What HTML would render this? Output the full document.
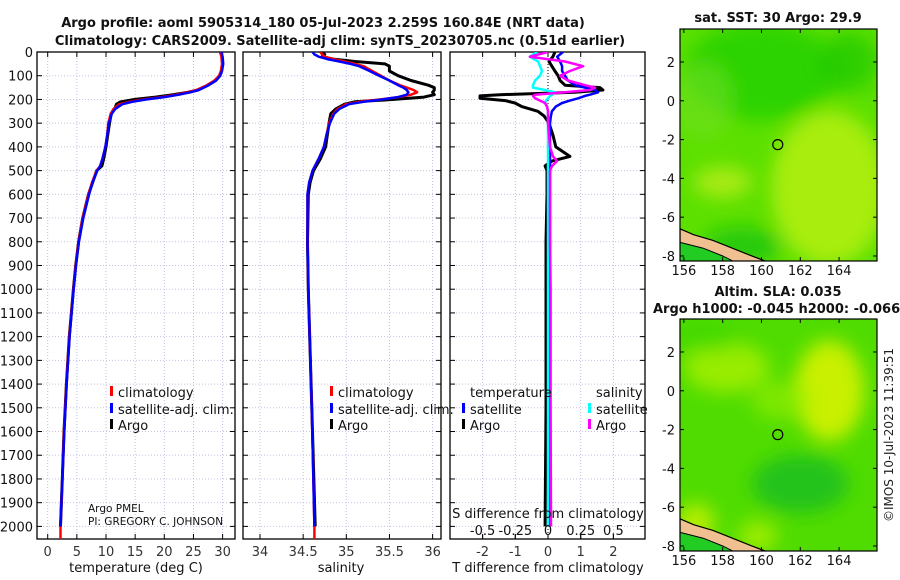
<!DOCTYPE html>
<html><head><meta charset="utf-8"><style>
body{margin:0;background:#fff;}
svg{display:block;font-family:"DejaVu Sans","Liberation Sans",sans-serif;}
</style></head><body>
<svg id="fig" width="900" height="580" viewBox="0 0 900 580">
<defs>
<filter id="blur8" x="-50%" y="-50%" width="200%" height="200%"><feGaussianBlur stdDeviation="9"/></filter>
<clipPath id="clipTop"><rect x="680" y="29" width="197" height="232"/></clipPath>
<clipPath id="clipBot"><rect x="680" y="319" width="197" height="232"/></clipPath>
<clipPath id="clipP1"><rect x="37" y="52" width="198" height="487"/></clipPath>
<clipPath id="clipP2"><rect x="243" y="52" width="198" height="487"/></clipPath>
<clipPath id="clipP3"><rect x="450" y="52" width="195" height="487"/></clipPath>
</defs>
<g id="titles" font-weight="bold" font-size="13" fill="#111">
<text x="323" y="27" text-anchor="middle">Argo profile: aoml 5905314_180 05-Jul-2023 2.259S 160.84E (NRT data)</text>
<text x="340" y="45" text-anchor="middle">Climatology: CARS2009. Satellite-adj clim: synTS_20230705.nc (0.51d earlier)</text>
<text x="778" y="22" text-anchor="middle">sat. SST: 30 Argo: 29.9</text>
<text x="778" y="296" text-anchor="middle">Altim. SLA: 0.035</text>
<text x="653" y="313">Argo h1000: -0.045 h2000: -0.066</text>
</g>
<g id="panels"></g>
<g id="maps"></g>
<text transform="translate(893,435) rotate(-90)" text-anchor="middle" font-size="12" fill="#222">©IMOS 10-Jul-2023 11:39:51</text>
</svg>
<script>
// ---- data ----
const depthT = [0,20,50,80,100,120,140,160,170,180,190,200,210,220,240,260,300,350,400,450,480,500,550,600,700,800,900,1000,1200,1400,1600,1800,2000];
const argoTemp = [29.6,29.9,30,29.8,29.5,28.8,27.5,25.8,24,21.5,18.5,15,12.5,11.8,11.5,10.9,10.6,10.3,10,9.6,9.3,8.4,7.7,7,6,5.3,4.8,4.4,3.7,3.2,2.8,2.5,2.2];
const climTemp = [29.6,29.8,29.9,29.7,29.4,28.6,27.3,25.5,24,22,19.5,16.5,14,12.3,11.3,10.8,10.4,10.2,9.9,9.4,9,8.4,7.6,7,6,5.3,4.8,4.4,3.7,3.2,2.8,2.5,2.2];
const satTemp = [29.8,30,30.1,29.9,29.6,28.9,27.6,25.9,24.5,22.5,20,17,14.5,12.8,11.6,11,10.5,10.2,9.9,9.4,9,8.5,7.7,7.1,6.1,5.35,4.85,4.45,3.75,3.25,2.85,2.5,2.2];
const depthS = [0,10,20,30,40,50,60,80,100,120,140,150,160,170,180,190,200,210,220,240,260,300,350,400,450,500,550,600,800,1000,1500,2000];
const argoSal = [34.72,34.75,34.72,34.85,35.1,35.45,35.5,35.5,35.6,35.75,35.95,36.02,36.02,36.0,36.02,35.9,35.55,35.1,34.98,34.88,34.82,34.8,34.78,34.76,34.7,34.62,34.58,34.56,34.55,34.56,34.6,34.64];
const climSal = [34.7,34.72,34.75,34.85,34.98,35.1,35.2,35.3,35.4,35.5,35.62,35.7,35.78,35.82,35.75,35.6,35.4,35.15,35.0,34.9,34.85,34.8,34.77,34.74,34.68,34.61,34.57,34.55,34.55,34.56,34.6,34.63];
const satSal = [34.61,34.63,34.68,34.78,34.92,35.05,35.15,35.27,35.38,35.5,35.6,35.66,35.7,35.72,35.7,35.6,35.42,35.2,35.03,34.92,34.86,34.81,34.77,34.74,34.68,34.61,34.57,34.55,34.55,34.56,34.6,34.63];
const depthD = [0,20,40,60,80,100,120,140,150,160,170,180,185,195,205,215,230,250,270,300,350,400,440,460,480,500,600,800,1000,1500,2000];
const argoDT = [0.21,0.15,0.03,0.12,0.21,0.31,0.37,0.52,1.59,1.68,0.83,-1.47,-2.08,-2.08,-1.31,-1.01,-0.80,-0.31,-0.12,0.03,0.15,0.24,0.67,0.12,-0.09,-0.03,-0.03,-0.06,-0.06,-0.06,-0.09];
const satDT = [0.46,0.28,0.37,0.43,0.43,0.52,0.61,0.83,1.13,1.44,1.53,1.28,1.13,0.92,0.67,0.43,0.24,0.12,0.09,0.06,0.06,0.06,0.06,0.06,0.06,0.06,0.06,0.06,0.06,0.06,0.06];
const satDS = [-0.084,-0.138,-0.076,-0.061,-0.046,-0.061,-0.099,-0.115,-0.115,-0.023,0.054,0.031,0.015,0,-0.015,-0.023,-0.008,0,0,0,0,0,0,0,0,0,0,0,0,0,0];
const argoDS = [0,-0.138,0.13,0.268,0.168,0.092,0.153,0.283,0.359,0.321,0.13,-0.099,-0.115,-0.099,-0.061,-0.023,-0.008,0,0,0,0.008,0.015,0.038,0.069,0.031,0.015,0.015,0.015,0.02,0.02,0.023];
const depthTicks = [0,100,200,300,400,500,600,700,800,900,1000,1100,1200,1300,1400,1500,1600,1700,1800,1900,2000];
const tempTicks = [0,5,10,15,20,25,30];
const salTicks = [34,34.5,35,35.5,36];
const dtTicks = [-2,-1,0,1,2];
const dsTicks = [-0.5,-0.25,0,0.25,0.5];
const dsTickLabels = ["-0.5","-0.25","0","0.25","0.5"];
const lonTicks = [156,158,160,162,164];
const latTicks = [2,0,-2,-4,-6,-8];
const floatLon = 160.84, floatLat = -2.259;

// ---- helpers ----
const NS = "http://www.w3.org/2000/svg";
function mk(tag, attrs, parent){const e=document.createElementNS(NS,tag);for(const k in attrs)e.setAttribute(k,attrs[k]);parent.appendChild(e);return e;}
const yD = d => 52 + d*0.2372;
const xT = t => 47.7 + t*5.83;
const xS = s => 260 + (s-34)*86.3;
const xDT = t => 548 + t*32.7;
const xDS = s => 548 + s*130.8;
const panels = document.getElementById('panels');

function panelFrame(x0, x1, xticks, xfn, labels, name){
  const g = mk('g',{},panels);
  
  
  xticks.forEach(v=>{const l=mk('line',{x1:xfn(v),x2:xfn(v),y1:52,y2:539,stroke:'#b8c0e8','stroke-dasharray':'1,2','stroke-width':1},g);
    
    });
  depthTicks.forEach(d=>{const l=mk('line',{x1:x0,x2:x1,y1:yD(d),y2:yD(d),stroke:'#c8c0e0','stroke-dasharray':'1,2','stroke-width':1},g);
    
    
    mk('line',{x1:x0,x2:x0+5,y1:yD(d),y2:yD(d),stroke:'#000'},g);
    mk('line',{x1:x1,x2:x1-5,y1:yD(d),y2:yD(d),stroke:'#000'},g);});
  xticks.forEach((v,i)=>{mk('line',{x1:xfn(v),x2:xfn(v),y1:539,y2:534,stroke:'#000'},g);
    mk('line',{x1:xfn(v),x2:xfn(v),y1:52,y2:57,stroke:'#000'},g);
    if(labels){const t=mk('text',{x:xfn(v),y:556,'text-anchor':'middle','font-size':13,fill:'#333'},g);t.textContent=labels[i];
      
      }});
  mk('rect',{x:x0,y:52,width:x1-x0,height:487,fill:'none',stroke:'#000','stroke-width':1.3},g);
  return g;
}
function line(xs, ds, xfn, color, w, clip, name){
  const p = xs.map((v,i)=>(i?'L':'M')+xfn(v).toFixed(1)+','+yD(ds[i]).toFixed(1)).join('');
  const e = mk('path',{d:p,fill:'none',stroke:color,'stroke-width':w,'stroke-linejoin':'round','clip-path':'url(#'+clip+')'},panels);
  
  
}
function txt(x,y,s,size,name,anchor,parent){const t=mk('text',{x:x,y:y,'font-size':size,fill:'#111','text-anchor':anchor||'start'},parent||panels);t.textContent=s;
  
  return t;}
function legendMark(x,y,color){const r=mk('rect',{x:x,y:y-11,width:3,height:10,fill:color},panels);
  
  }

// depth labels
depthTicks.forEach(d=>{txt(33,yD(d)+5,String(d),13,'y-tick-label','end');});

// panel 1
panelFrame(37,235,tempTicks,xT,tempTicks.map(String),'temperature-panel');
line(argoTemp,depthT,xT,'#000',3,'clipP1','argo-temperature-line');
line(climTemp.concat([2.2]),depthT.concat([2100]),xT,'#f00',2.5,'clipP1','climatology-temperature-line');
line(satTemp,depthT,xT,'#00f',2.5,'clipP1','satellite-temperature-line');
txt(136,572,'temperature (deg C)',13,'x-axis-title-temperature','middle');
legendMark(110,397,'#f00');txt(118,397,'climatology',13,'legend-climatology');
legendMark(110,414,'#00f');txt(118,414,'satellite-adj. clim.',13,'legend-satellite-adj');
legendMark(110,430,'#000');txt(118,430,'Argo',13,'legend-argo');
txt(88,512,'Argo PMEL',10.5,'pi-institution');
txt(88,525,'PI: GREGORY C. JOHNSON',10.5,'pi-name');

// panel 2
panelFrame(243,441,salTicks,xS,salTicks.map(String),'salinity-panel');
line(argoSal,depthS,xS,'#000',3,'clipP2','argo-salinity-line');
line(climSal.concat([34.63]),depthS.concat([2100]),xS,'#f00',2.5,'clipP2','climatology-salinity-line');
line(satSal,depthS,xS,'#00f',2.5,'clipP2','satellite-salinity-line');
txt(341,572,'salinity',13,'x-axis-title-salinity','middle');
legendMark(330,397,'#f00');txt(338,397,'climatology',13,'legend-climatology-s');
legendMark(330,414,'#00f');txt(338,414,'satellite-adj. clim.',13,'legend-satellite-adj-s');
legendMark(330,430,'#000');txt(338,430,'Argo',13,'legend-argo-s');

// panel 3
const g3=panelFrame(450,645,dtTicks,xDT,dtTicks.map(String),'difference-panel');
mk('line',{x1:548,x2:548,y1:52,y2:539,stroke:'#000','stroke-dasharray':'1,2'},panels);
line(argoDT,depthD,xDT,'#000',3,'clipP3','argo-temperature-diff-line');
line(satDT,depthD,xDT,'#00f',2.5,'clipP3','satellite-temperature-diff-line');
line(satDS,depthD,xDS,'#0ff',2.5,'clipP3','satellite-salinity-diff-line');
line(argoDS,depthD,xDS,'#f0f',2.5,'clipP3','argo-salinity-diff-line');
dsTicks.forEach((v,i)=>{mk('line',{x1:xDS(v),x2:xDS(v),y1:539,y2:534,stroke:'#000'},panels);
  txt(xDS(v),535,dsTickLabels[i],13,'s-diff-tick-label','middle');});
txt(548,518,'S difference from climatology',13,'s-diff-axis-title','middle');
txt(548,572,'T difference from climatology',13,'t-diff-axis-title','middle');
txt(470,397,'temperature',13,'legend-header-temperature');
txt(596,397,'salinity',13,'legend-header-salinity');
legendMark(462,414,'#00f');txt(470,414,'satellite',13,'legend-temp-satellite');
legendMark(462,430,'#000');txt(470,430,'Argo',13,'legend-temp-argo');
legendMark(588,414,'#0ff');txt(596,414,'satellite',13,'legend-sal-satellite');
legendMark(588,430,'#f0f');txt(596,430,'Argo',13,'legend-sal-argo');

// ---- maps ----
const maps=document.getElementById('maps');
const lonX = l => 680 + (l-155.8)*19.4;
function drawMap(top, clip, base, blobs, name){
  const latY = la => top + (3.7-la)*19.4;
  const g=mk('g',{'clip-path':'url(#'+clip+')'},maps);
  
  
  mk('rect',{x:680,y:top,width:197,height:232,fill:base},g);
  const bg=mk('g',{filter:'url(#blur8)'},g);
  blobs.forEach(b=>mk('ellipse',{cx:lonX(b[0]),cy:latY(b[1]),rx:b[2]*19.4,ry:b[3]*19.4,fill:b[4],opacity:b[5]},bg));
  // coastline (New Guinea / Solomon region)
  const coast=[[155.8,-6.6],[156.5,-6.9],[157.5,-7.2],[158.5,-7.6],[159.5,-8.0],[160.3,-8.3],[155.8,-8.3]];
  const cp=coast.map((c,i)=>(i?'L':'M')+lonX(c[0])+','+latY(c[1])).join('')+'Z';
  const c1=mk('path',{d:cp,fill:'#f0c090',stroke:'#000','stroke-width':1.2},g);
  
  
  const inner=[[155.8,-7.3],[157,-7.6],[158,-8.0],[158.6,-8.3],[155.8,-8.3]];
  mk('path',{d:inner.map((c,i)=>(i?'L':'M')+lonX(c[0])+','+latY(c[1])).join('')+'Z',fill:'#22cc22',stroke:'#000','stroke-width':1},g);
  const fl=mk('circle',{cx:lonX(floatLon),cy:latY(floatLat),r:5,fill:'none',stroke:'#000','stroke-width':1.2},g);
  
  
  const fr=mk('rect',{x:680,y:top,width:197,height:232,fill:'none',stroke:'#000','stroke-width':1.2},maps);
  
  
  lonTicks.forEach(l=>{mk('line',{x1:lonX(l),x2:lonX(l),y1:top+232,y2:top+228,stroke:'#000'},maps);
    mk('line',{x1:lonX(l),x2:lonX(l),y1:top,y2:top+4,stroke:'#000'},maps);
    txt(lonX(l),top+246,String(l),13,'lon-tick-label','middle',maps);});
  latTicks.forEach(la=>{mk('line',{x1:680,x2:684,y1:latY(la),y2:latY(la),stroke:'#000'},maps);
    mk('line',{x1:877,x2:873,y1:latY(la),y2:latY(la),stroke:'#000'},maps);
    txt(675,latY(la)+5,String(la),13,'lat-tick-label','end',maps);});
}
const sstBlobs=[[160,1.5,4,2.5,'#22d000',0.8],[163.5,-4.5,3,4,'#b0ee10',0.9],[158,-4.2,1.5,0.8,'#c8f020',0.7],[157,0,1.5,2,'#70e020',0.6],[164.5,2,1.5,1.5,'#20c800',0.7],[159,-7.5,2,1,'#10c010',0.7]];
const slaBlobs=[[163.5,0,1.8,2.6,'#c8f000',1],[158.2,1.2,2.2,1.3,'#a0ee00',0.9],[161,-0.5,1.5,1,'#90ec00',0.7],[162,-4.8,2.5,1.5,'#20c020',0.9],[157,2.8,2,0.8,'#40d800',0.7],[156.6,-6.8,1,1,'#c0f000',0.9],[159.8,-7.5,1,0.8,'#b0f000',0.8]];
drawMap(29,'clipTop','#5ce000',sstBlobs,'sst-map');
drawMap(319,'clipBot','#50dc00',slaBlobs,'sla-map');
</script>
</body></html>
